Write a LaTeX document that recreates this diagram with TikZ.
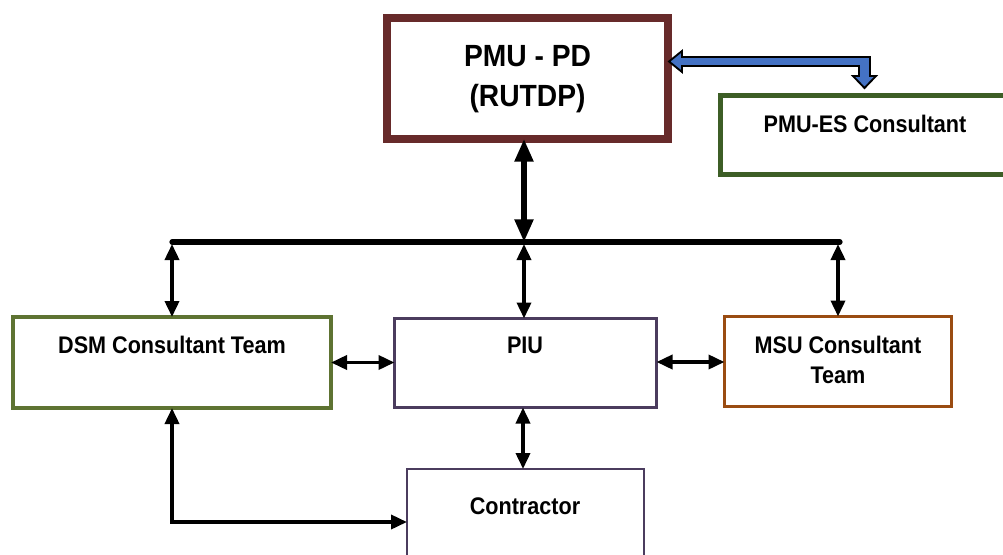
\documentclass[tikz,border=0pt]{standalone}
\usepackage{fontspec}
\setmainfont{Liberation Sans}
\newfontfamily\labfont{Liberation Sans}[FakeStretch=0.9]
\newfontfamily\bigfont{Liberation Sans}[FakeStretch=0.92]
\usetikzlibrary{arrows.meta,calc}
\definecolor{pdred}{HTML}{672A2A}
\definecolor{esgreen}{HTML}{3D5E26}
\definecolor{dsmgreen}{HTML}{5E7332}
\definecolor{piupurple}{HTML}{4B3C5E}
\definecolor{msubrown}{HTML}{9A4C12}
\definecolor{arrowblue}{HTML}{4472C4}
\tikzset{
  box/.style={draw, fill=white, rectangle, inner sep=0pt, outer sep=0pt},
  lbl/.style={font=\labfont\bfseries\fontsize{18pt}{22.5pt}\selectfont, align=center, inner sep=0pt, text=black},
  biglbl/.style={font=\bigfont\bfseries\fontsize{23pt}{30pt}\selectfont, align=center, inner sep=0pt, text=black},
  bigarr/.style={line width=3.9pt, {Triangle[width=13.5pt,length=17pt]}-{Triangle[width=13.5pt,length=17pt]}},
  arr/.style={line width=2.7pt, {Triangle[width=10.5pt,length=12pt]}-{Triangle[width=10.5pt,length=12pt]}},
  busline/.style={line width=3.9pt, line cap=round}
}
\begin{document}
\begin{tikzpicture}[x=0.75pt,y=-0.75pt]
\useasboundingbox (0,0) rectangle (1003,554);
% boxes
\node[box, draw=pdred, line width=6pt, minimum width=210.75pt, minimum height=90.75pt] (pd) at (527.5,78.5) {};
\node[box, draw=esgreen, line width=3.75pt, minimum width=216.75pt, minimum height=59.25pt] (es) at (865,135) {};
\node[box, draw=dsmgreen, line width=3pt, minimum width=238.5pt, minimum height=68.25pt] (dsm) at (172,362.5) {};
\node[box, draw=piupurple, line width=2.25pt, minimum width=196.5pt, minimum height=66.75pt] (piu) at (525.5,363) {};
\node[box, draw=msubrown, line width=2.25pt, minimum width=170.25pt, minimum height=67.5pt] (msu) at (838,361.5) {};
\node[box, draw=piupurple, line width=1.9pt, minimum width=177.75pt, minimum height=68.25pt] (con) at (525.5,514.5) {};
% texts
\node[biglbl] (pdt) at (527.5,79) {PMU - PD\\(RUTDP)};
\node[lbl] (est) at (865,124) {PMU-ES Consultant};
\node[lbl] (dsmt) at (172,345) {DSM Consultant Team};
\node[lbl] (piut) at (525,345) {PIU};
\node[lbl] (msut) at (838,360) {MSU Consultant\\Team};
\node[lbl] (cont) at (525,506) {Contractor};
% bus
\coordinate (busL) at (172,242);
\coordinate (busM) at (524,242);
\coordinate (busR) at (838,242);
\draw[busline] (busL) -- (840,242);
\draw[bigarr] (pd.south -| busM) -- (busM);
\draw[arr] ($(busL)+(0,2)$) -- (dsm.north -| busL);
\draw[arr] ($(busM)+(0,2)$) -- (piu.north -| busM);
\draw[arr] ($(busR)+(0,2)$) -- (msu.north -| busR);
\draw[arr] (dsm.east) -- (piu.west |- dsm.east);
\draw[arr] (piu.east |- 0,362) -- (msu.west |- 0,362);
\coordinate (pc) at (523,0);
\draw[arr] (piu.south -| pc) -- (con.north -| pc);
\coordinate (corner) at (172,522);
\draw[arr] (dsm.south -| corner) -- (corner) -- (con.west |- corner);
% blue arrow PMU-PD <-> PMU-ES
\draw[fill=arrowblue, draw=black, line width=1.4pt, line join=miter]
  (669,61.5) -- (682,51) -- (682,57) -- (870,57) -- (870,76) -- (876,76)
  -- (864.5,88) -- (853,76) -- (859,76) -- (859,66) -- (682,66) -- (682,72) -- cycle;
\end{tikzpicture}
\end{document}
